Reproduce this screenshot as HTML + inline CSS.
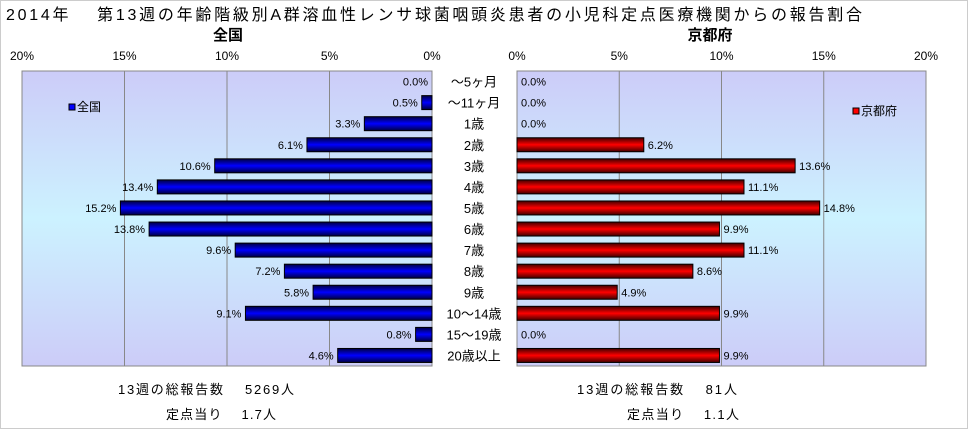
<!DOCTYPE html>
<html><head><meta charset="utf-8"><style>
body{margin:0;background:#fff;}
svg text{font-family:"Liberation Sans","Noto Sans CJK JP",sans-serif;}
</style></head><body>
<svg width="968" height="429" xmlns="http://www.w3.org/2000/svg">
<defs>
<linearGradient id="bg" x1="0" y1="0" x2="0" y2="1">
<stop offset="0" stop-color="#ccccf8"/><stop offset="0.5" stop-color="#ccf2ff"/><stop offset="1" stop-color="#ccccf8"/></linearGradient>
<linearGradient id="gb" x1="0" y1="0" x2="0" y2="1">
<stop offset="0" stop-color="#000040"/><stop offset="0.5" stop-color="#0000ff"/><stop offset="1" stop-color="#000040"/></linearGradient>
<linearGradient id="gr" x1="0" y1="0" x2="0" y2="1">
<stop offset="0" stop-color="#400000"/><stop offset="0.5" stop-color="#ff0000"/><stop offset="1" stop-color="#400000"/></linearGradient>
</defs>
<rect x="0.5" y="0.5" width="967" height="428" fill="#fff" stroke="#ccc"/>
<text x="6" y="20" font-size="16" textLength="856" lengthAdjust="spacing">2014年　 第13週の年齢階級別A群溶血性レンサ球菌咽頭炎患者の小児科定点医療機関からの報告割合</text>
<text x="228" y="40" font-size="15" font-weight="bold" text-anchor="middle">全国</text>
<text x="710" y="40" font-size="15" font-weight="bold" text-anchor="middle">京都府</text>
<g id="L"></g><g id="R"></g><g id="C"></g>
<text x="118" y="394" font-size="13" textLength="176" lengthAdjust="spacing">13週の総報告数　 5269人</text>
<text x="166" y="419" font-size="13" textLength="110" lengthAdjust="spacing">定点当り　 1.7人</text>
<text x="577" y="394" font-size="13" textLength="160" lengthAdjust="spacing">13週の総報告数　 81人</text>
<text x="627" y="419" font-size="13" textLength="112" lengthAdjust="spacing">定点当り　 1.1人</text>
</svg>
<script>
const categories=["～5ヶ月","～11ヶ月","1歳","2歳","3歳","4歳","5歳","6歳","7歳","8歳","9歳","10～14歳","15～19歳","20歳以上"];
const nationalValues=[0.0,0.5,3.3,6.1,10.6,13.4,15.2,13.8,9.6,7.2,5.8,9.1,0.8,4.6];
const kyotoValues=[0.0,0.0,0.0,6.2,13.6,11.1,14.8,9.9,11.1,8.6,4.9,9.9,0.0,9.9];
const ticks=[0,5,10,15,20];
const NS="http://www.w3.org/2000/svg";
const top0=71,bot0=366,rowH=(bot0-top0)/categories.length,barH=14;
function mk(p,t,a){const e=document.createElementNS(NS,t);for(const k in a)e.setAttribute(k,a[k]);p.appendChild(e);return e;}
function panel(g,x0,x1,dir,vals,grad,name,legX,legY,legLabel,legColor){
 const w=x1-x0;const zero=dir<0?x1:x0;
 const sx=v=>zero+dir*v/20*w;
 const bg=mk(g,'rect',{x:x0,y:top0,width:w,height:bot0-top0,fill:'url(#bg)',stroke:'#888'});
 
 ticks.forEach(t=>{const x=sx(t);
  if(t>0&&t<20){const l=mk(g,'line',{x1:x,x2:x,y1:top0,y2:bot0,stroke:'#888'});}
  const tl=mk(g,'text',{x:x,y:60,'font-size':12,'text-anchor':'middle'});tl.textContent=t+'%';
  });
 vals.forEach((v,i)=>{const cy=top0+rowH*(i+0.5);const xe=sx(v);
  if(v>0){const r=mk(g,'rect',{x:Math.min(zero,xe),y:cy-barH/2,width:Math.abs(xe-zero),height:barH,fill:grad,stroke:'#000'});
   }
  const lx=dir<0?xe-4:xe+4;
  const t=mk(g,'text',{x:lx,y:cy+4,'font-size':11,'text-anchor':dir<0?'end':'start'});t.textContent=v.toFixed(1)+'%';
  });
 const lg=mk(g,'g',{});
 mk(lg,'rect',{x:legX,y:legY-7,width:6,height:6,fill:legColor,stroke:'#000'});
 const lt=mk(lg,'text',{x:legX+8,y:legY,'font-size':12});lt.textContent=legLabel;
}
panel(document.getElementById('L'),22,432,-1,nationalValues,'url(#gb)','national',69,111,'全国','#0000ff');
panel(document.getElementById('R'),517,926,1,kyotoValues,'url(#gr)','kyoto',853,115,'京都府','#ff0000');
const C=document.getElementById('C');
categories.forEach((c,i)=>{const t=mk(C,'text',{x:474,y:top0+rowH*(i+0.5)+5,'font-size':13,'text-anchor':'middle'});t.textContent=c;
 });
</script>
</body></html>
